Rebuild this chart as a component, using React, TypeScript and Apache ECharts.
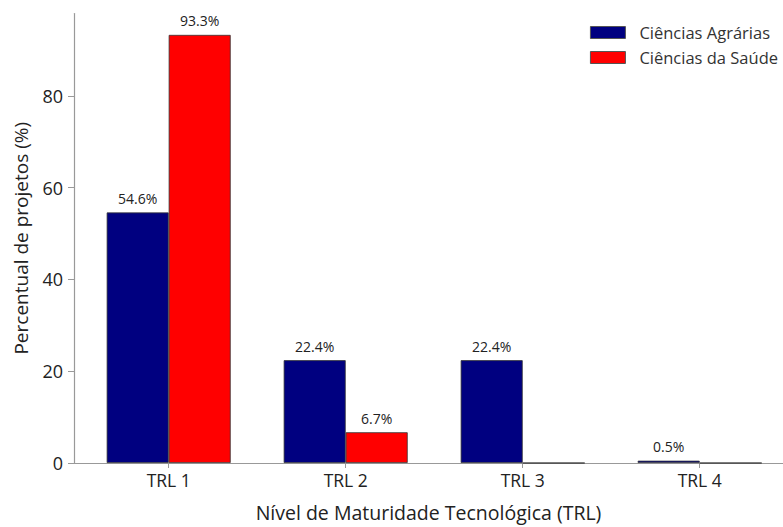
import React, { useEffect, useRef } from "react";
import * as echarts from "echarts";

const categories = ["TRL 1", "TRL 2", "TRL 3", "TRL 4"];
const agrarias = [54.6, 22.4, 22.4, 0.5];
const saude = [93.3, 6.7, 0, 0];
const yTicks = [0, 20, 40, 60, 80];
const xTicks = [0, 1, 2, 3];
const seriesNames = ["Ciências Agrárias", "Ciências da Saúde"];

const FONT = "Open Sans";

export default function App() {
  const ref = useRef<HTMLDivElement>(null);
  useEffect(() => {
    document.body.style.margin = "0";
    const chart = echarts.init(ref.current!, null, { renderer: "svg" });
    const labelCfg = {
      show: true,
      position: "top" as const,
      distance: 7,
      color: "#222",
      fontSize: 14,
      fontFamily: FONT,
      formatter: (p: any) => (p.value[1] > 0 ? p.value[1].toFixed(1) + "%" : ""),
    };
    chart.setOption({
      animation: false,
      backgroundColor: "#fff",
      textStyle: { fontFamily: FONT },
      grid: { left: 74, top: 13.5, height: 454.5, right: 0, containLabel: false },
      legend: {
        right: 5,
        top: 23,
        padding: 0,
        orient: "vertical",
        icon: "rect",
        itemWidth: 35,
        itemHeight: 12,
        itemGap: 6,
        itemStyle: { borderColor: "#555", borderWidth: 1 },
        textStyle: {
          fontSize: 16.5,
          lineHeight: 19,
          color: "#333",
          fontFamily: FONT,
          padding: [0, 0, 0, 9],
        },
        data: seriesNames,
      },
      xAxis: {
        type: "value",
        min: -0.535,
        max: -0.535 + 709 / 177,
        splitLine: { show: false },
        axisLine: { show: true, onZero: false, lineStyle: { color: "#999", width: 1.2 } },
        axisTick: { show: true, customValues: xTicks, length: 5, lineStyle: { color: "#999" } },
        axisLabel: {
          customValues: xTicks,
          formatter: (v: number) => categories[Math.round(v)] ?? "",
          fontSize: 17.5,
          color: "#222",
          margin: 8,
          fontFamily: FONT,
        },
        name: "Nível de Maturidade Tecnológica (TRL)",
        nameLocation: "middle",
        nameGap: 39,
        nameTextStyle: { fontSize: 19.5, lineHeight: 20, color: "#222", fontFamily: FONT },
      },
      yAxis: {
        type: "value",
        min: 0,
        max: 97.965,
        splitLine: { show: false },
        axisLine: { show: true, onZero: false, lineStyle: { color: "#999", width: 1.2 } },
        axisTick: { show: true, customValues: yTicks, length: 6, lineStyle: { color: "#999" } },
        axisLabel: {
          customValues: yTicks,
          fontSize: 18,
          color: "#222",
          margin: 11,
          fontFamily: FONT,
        },
        name: "Percentual de projetos (%)",
        nameLocation: "middle",
        nameGap: 44,
        nameTextStyle: { fontSize: 19, color: "#222", fontFamily: FONT },
      },
      series: [
        {
          name: seriesNames[0],
          type: "bar",
          barWidth: 62,
          barGap: "0%",
          data: agrarias.map((v, i) => [i, v]),
          itemStyle: { color: "#000080", borderColor: "#333", borderWidth: 0.8 },
          label: labelCfg,
        },
        {
          name: seriesNames[1],
          type: "bar",
          barWidth: 62,
          barGap: "0%",
          data: saude.map((v, i) => [i, v]),
          itemStyle: { color: "#ff0000", borderColor: "#333", borderWidth: 0.8 },
          label: labelCfg,
        },
      ],
    });
    return () => chart.dispose();
  }, []);
  return (
    <div
      ref={ref}
      style={{ position: "fixed", left: 0, top: 0, width: 783, height: 527, overflow: "hidden" }}
    />
  );
}
